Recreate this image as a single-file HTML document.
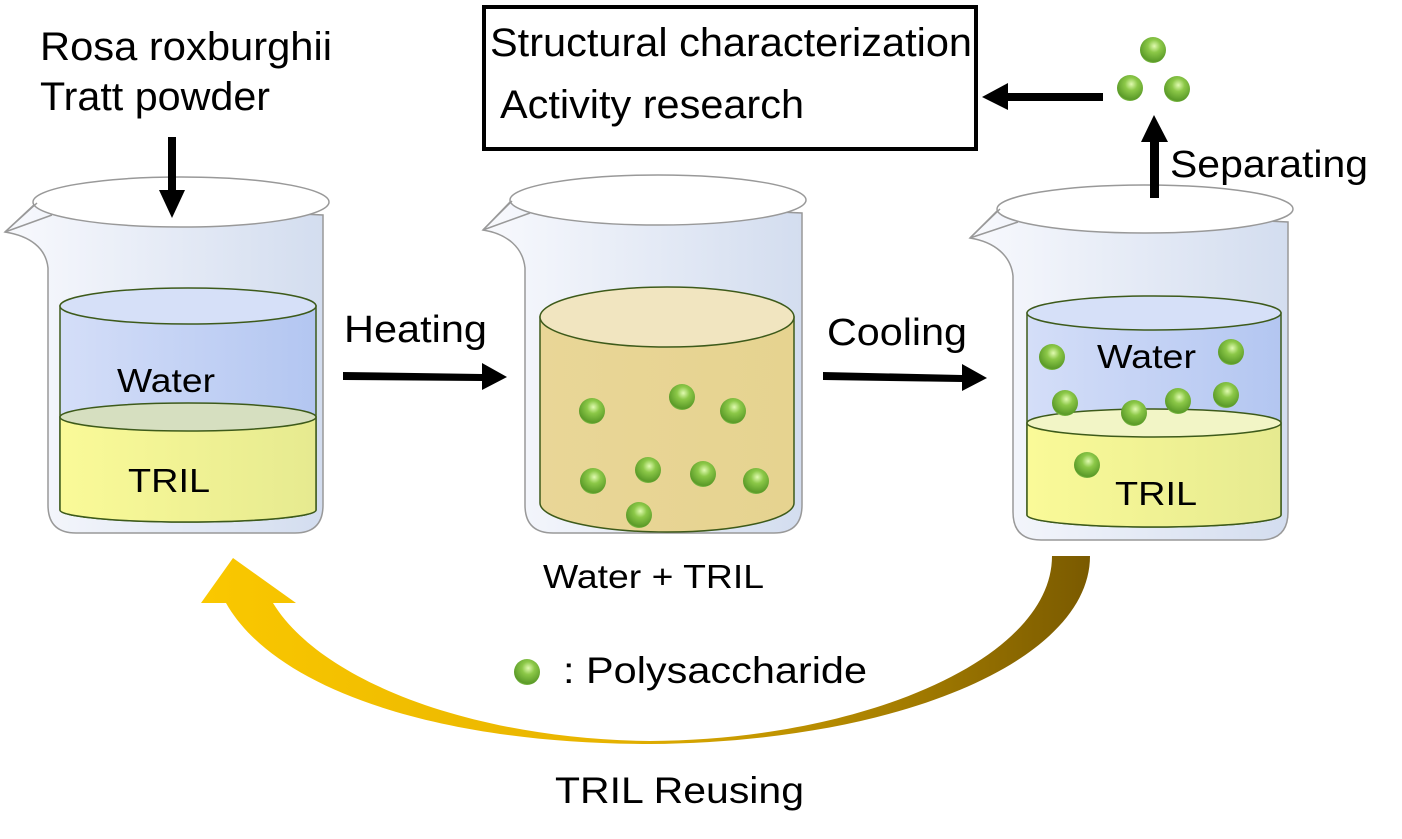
<!DOCTYPE html>
<html><head><meta charset="utf-8"><style>
html,body{margin:0;padding:0;background:#fff;}
svg{display:block;}
text{font-family:"Liberation Sans",Arial,sans-serif;fill:#000;}
</style></head><body>
<svg width="1402" height="839" viewBox="0 0 1402 839" xmlns="http://www.w3.org/2000/svg">
<defs>
<linearGradient id="glass" x1="0" x2="1" y1="0" y2="0"><stop offset="0" stop-color="#f8f9fd"/><stop offset="1" stop-color="#d3ddef"/></linearGradient>
<linearGradient id="water" x1="0" x2="1"><stop offset="0" stop-color="#d4def8"/><stop offset="1" stop-color="#b3c6f1"/></linearGradient>
<linearGradient id="tril" x1="0" x2="1"><stop offset="0" stop-color="#fafa98"/><stop offset="1" stop-color="#e6ea90"/></linearGradient>
<linearGradient id="mix" x1="0" x2="1"><stop offset="0" stop-color="#e9d697"/><stop offset="1" stop-color="#e6d390"/></linearGradient>
<linearGradient id="reuse" x1="0" x2="1"><stop offset="0" stop-color="#fac800"/><stop offset="0.45" stop-color="#e8b400"/><stop offset="1" stop-color="#7a5a00"/></linearGradient>
<radialGradient id="ball" cx="0.55" cy="0.35" r="0.7"><stop offset="0" stop-color="#e0fab0"/><stop offset="0.35" stop-color="#8cc848"/><stop offset="0.85" stop-color="#5a9a28"/><stop offset="1" stop-color="#9cd860"/></radialGradient>
<g id="b"><circle r="13" fill="url(#ball)"/></g>
</defs>

<!-- texts top -->
<text x="40" y="60" font-size="40" textLength="292" lengthAdjust="spacingAndGlyphs">Rosa roxburghii</text>
<text x="40" y="110" font-size="40" textLength="230" lengthAdjust="spacingAndGlyphs">Tratt powder</text>
<rect x="484" y="7" width="492" height="142" fill="none" stroke="#000" stroke-width="4"/>
<text x="490" y="56" font-size="40" textLength="482" lengthAdjust="spacingAndGlyphs">Structural characterization</text>
<text x="500" y="118" font-size="40" textLength="304" lengthAdjust="spacingAndGlyphs">Activity research</text>

<!-- beaker 1 -->
<path d="M37,202 L5,232 C30,236 46,248 48,268 L48,505 Q48,533 76,533 L295,533 Q323,533 323,505 L323,215 Z" fill="url(#glass)" stroke="#999" stroke-width="1.5"/>
<ellipse cx="181" cy="202" rx="148" ry="25" fill="#fff" stroke="#999" stroke-width="1.5"/>
<path d="M37,203 L5,232 L52,215" fill="none" stroke="#999" stroke-width="1.5"/>
<path d="M60,306 L60,510 A128,12 0 0 0 316,510 L316,306 Z" fill="url(#water)" stroke="#3d5a1a" stroke-width="1.5"/>
<path d="M60,417 L60,510 A128,12 0 0 0 316,510 L316,417 Z" fill="url(#tril)" stroke="#3d5a1a" stroke-width="1.5"/>
<ellipse cx="188" cy="306" rx="128" ry="18" fill="#d6e0f8" stroke="#3d5a1a" stroke-width="1.5"/>
<ellipse cx="188" cy="417" rx="128" ry="14" fill="#d6dfc0" stroke="#3d5a1a" stroke-width="1.5"/>
<text x="117" y="392" font-size="33" textLength="98" lengthAdjust="spacingAndGlyphs">Water</text>
<text x="128" y="492" font-size="33" textLength="82" lengthAdjust="spacingAndGlyphs">TRIL</text>

<!-- arrow down -->
<rect x="168" y="137" width="8" height="56" fill="#000"/>
<polygon points="159,190 185,190 172,218" fill="#000"/>

<!-- Heating -->
<text x="344" y="342" font-size="38" textLength="143" lengthAdjust="spacingAndGlyphs">Heating</text>
<polygon points="343,372 482,374 482,363 507,377 482,390 482,381 343,380" fill="#000"/>

<!-- beaker 2 -->
<path d="M512,200 L483,230 C508,234 523,248 525,268 L525,505 Q525,533 553,533 L774,533 Q802,533 802,505 L802,213 Z" fill="url(#glass)" stroke="#999" stroke-width="1.5"/>
<ellipse cx="658" cy="200" rx="148" ry="25" fill="#fff" stroke="#999" stroke-width="1.5"/>
<path d="M512,201 L483,230 L530,213" fill="none" stroke="#999" stroke-width="1.5"/>
<path d="M540,317 L540,503 A127,29 0 0 0 794,503 L794,317 Z" fill="url(#mix)" stroke="#3d5a1a" stroke-width="1.5"/>
<ellipse cx="667" cy="317" rx="127" ry="30" fill="#f1e5c0" stroke="#3d5a1a" stroke-width="1.5"/>
<use href="#b" x="592" y="411"/><use href="#b" x="682" y="397"/><use href="#b" x="733" y="411"/>
<use href="#b" x="593" y="481"/><use href="#b" x="648" y="470"/><use href="#b" x="703" y="474"/>
<use href="#b" x="756" y="481"/><use href="#b" x="639" y="515"/>
<text x="543" y="588" font-size="33" textLength="221" lengthAdjust="spacingAndGlyphs">Water + TRIL</text>

<!-- Cooling -->
<text x="827" y="345" font-size="38" textLength="140" lengthAdjust="spacingAndGlyphs">Cooling</text>
<polygon points="823,372 962,375 962,364 987,378 962,391 962,382 823,380" fill="#000"/>

<!-- beaker 3 -->
<path d="M1000,208 L970,238 C995,242 1011,256 1013,276 L1013,512 Q1013,540 1041,540 L1260,540 Q1288,540 1288,512 L1288,222 Z" fill="url(#glass)" stroke="#999" stroke-width="1.5"/>
<ellipse cx="1145" cy="209" rx="148" ry="24" fill="#fff" stroke="#999" stroke-width="1.5"/>
<path d="M1000,209 L970,238 L1018,222" fill="none" stroke="#999" stroke-width="1.5"/>
<path d="M1027,313 L1027,515 A127,12 0 0 0 1281,515 L1281,313 Z" fill="url(#water)" stroke="#3d5a1a" stroke-width="1.5"/>
<path d="M1027,423 L1027,515 A127,12 0 0 0 1281,515 L1281,423 Z" fill="url(#tril)" stroke="#3d5a1a" stroke-width="1.5"/>
<ellipse cx="1154" cy="313" rx="127" ry="17" fill="#d6e0f8" stroke="#3d5a1a" stroke-width="1.5"/>
<ellipse cx="1154" cy="423" rx="127" ry="14" fill="#f2f5c6" stroke="#3d5a1a" stroke-width="1.5"/>
<text x="1097" y="368" font-size="33" textLength="99" lengthAdjust="spacingAndGlyphs">Water</text>
<text x="1115" y="505" font-size="33" textLength="82" lengthAdjust="spacingAndGlyphs">TRIL</text>
<use href="#b" x="1052" y="357"/><use href="#b" x="1231" y="352"/><use href="#b" x="1065" y="403"/>
<use href="#b" x="1134" y="413"/><use href="#b" x="1178" y="401"/><use href="#b" x="1226" y="395"/>
<use href="#b" x="1087" y="465"/>

<!-- separating -->
<rect x="1150" y="140" width="9" height="58" fill="#000"/>
<polygon points="1141,142 1168,142 1154,115" fill="#000"/>
<text x="1170" y="177" font-size="38" textLength="198" lengthAdjust="spacingAndGlyphs">Separating</text>
<use href="#b" x="1153" y="50"/><use href="#b" x="1130" y="88"/><use href="#b" x="1177" y="89"/>
<rect x="1006" y="93" width="97" height="8" fill="#000"/>
<polygon points="1008,83 1008,110 982,97" fill="#000"/>

<!-- reuse arrow -->
<path d="M1052,556 L1090,556 C1090,660 900,742 650,744 C440,744 275,690 226,603 L201,603 L233,558 L296,603 L273,603 C320,680 470,739 650,741 C860,740 1052,660 1052,556 Z" fill="url(#reuse)"/>

<use href="#b" x="527" y="672"/>
<text x="563" y="683" font-size="37" textLength="304" lengthAdjust="spacingAndGlyphs">: Polysaccharide</text>
<text x="555" y="803" font-size="37" textLength="249" lengthAdjust="spacingAndGlyphs">TRIL Reusing</text>
</svg>
</body></html>
